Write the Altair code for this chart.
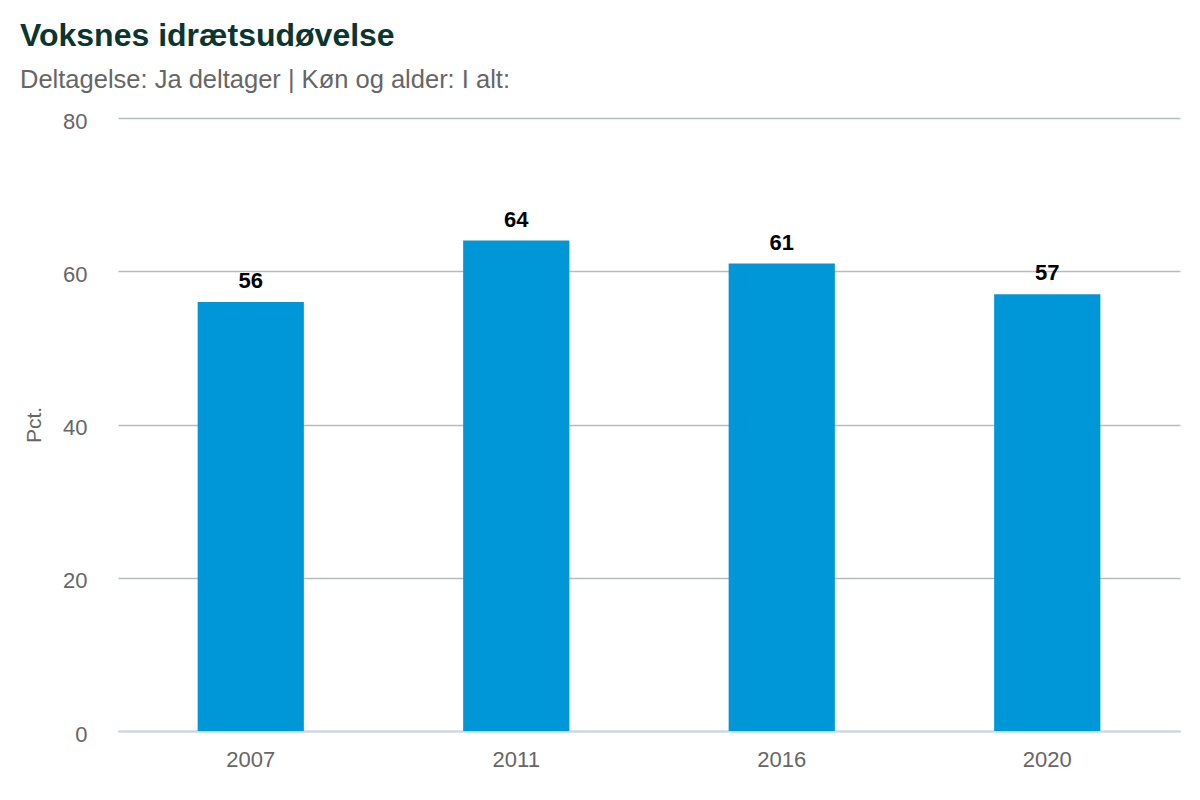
import altair as alt
import pandas as pd

years = ["2007", "2011", "2016", "2020"]
values = [56, 64, 61, 57]

df = pd.DataFrame({"year": years, "value": values})

FONT = "Liberation Sans"

base = alt.Chart(df).encode(
    x=alt.X("year:N", sort=years, title=None,
            scale=alt.Scale(paddingInner=0.6, paddingOuter=0.3),
            axis=alt.Axis(labelAngle=0, labelFont=FONT, labelFontSize=22,
                          labelColor="#666666", labelPadding=18,
                          domainColor="#ccd6eb", domainWidth=2, ticks=False, grid=False)),
    y=alt.Y("value:Q", title="Pct.",
            scale=alt.Scale(domain=[0, 80], nice=False),
            axis=alt.Axis(values=[0, 20, 40, 60, 80], labelFont=FONT, labelFontSize=22,
                          labelColor="#666666", labelPadding=31, labelOffset=3,
                          domain=False, ticks=False,
                          gridColor="#b3bcbf", gridWidth=1.5,
                          titleFont=FONT, titleFontSize=21, titleColor="#666666",
                          titleFontWeight="normal", titlePadding=18)),
)

bars = base.mark_bar(color="#0097d8")
labels = base.mark_text(dy=-14, baseline="alphabetic", font=FONT, fontSize=22,
                        fontWeight="bold", color="#000000").encode(text="value:Q")

chart = (bars + labels).properties(
    width=1062, height=613,
    title=alt.TitleParams(
        text="Voksnes idrætsudøvelse",
        subtitle="Deltagelse: Ja deltager | Køn og alder: I alt:",
        anchor="start", frame="group", dx=-98,
        font=FONT, fontSize=32, fontWeight="bold", color="#0b3530",
        subtitleFont=FONT, subtitleFontSize=25.5, subtitleColor="#666666",
        subtitlePadding=15, offset=16,
    ),
    autosize=alt.AutoSizeParams(type="none"),
    padding={"left": 110, "top": 110, "right": 12, "bottom": 60},
).configure_view(stroke=None)

chart.save("out.html", embed_options={"renderer": "svg", "actions": False})
